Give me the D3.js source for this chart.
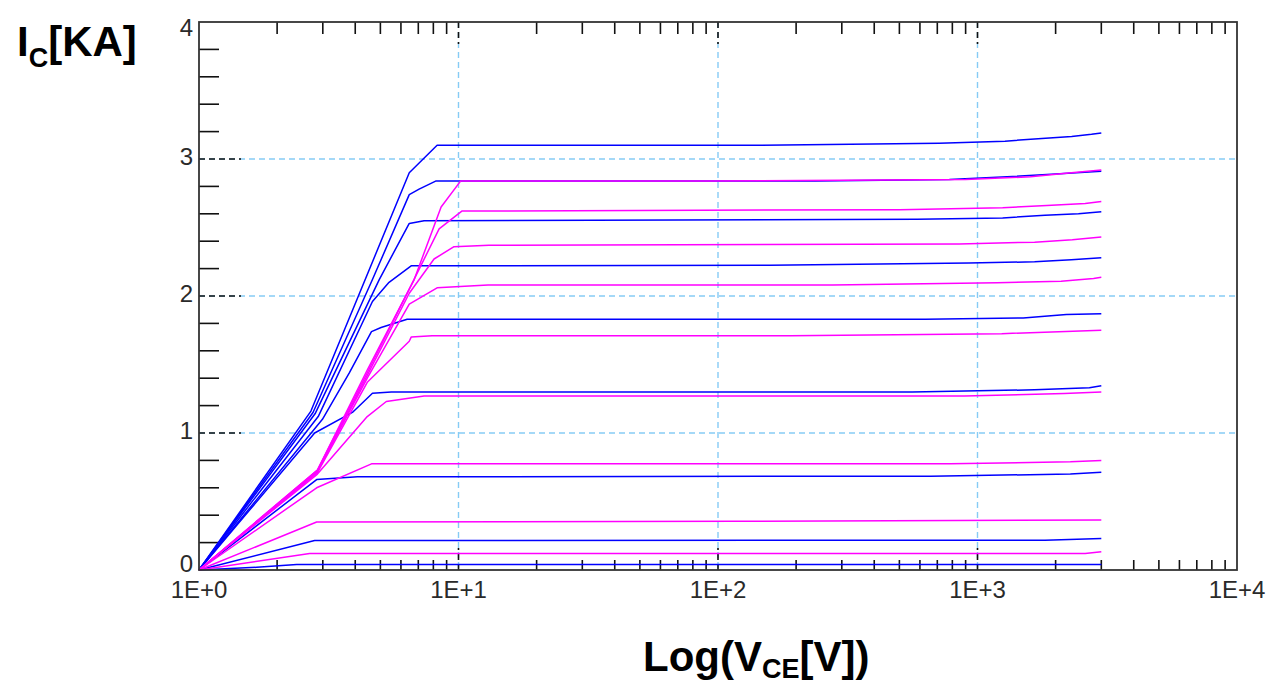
<!DOCTYPE html>
<html>
<head>
<meta charset="utf-8">
<script src="https://cdn.jsdelivr.net/npm/d3@7"></script>
<style>
  html, body { margin: 0; padding: 0; background: #fff; }
  svg { display: block; font-family: "Liberation Sans", Arial, sans-serif; }
</style>
</head>
<body>
<svg id="chart" width="1270" height="686"></svg>
<script>
// Output characteristics: collector current (kA) vs collector-emitter voltage (V, log scale).
// Each curve is a list of [V_CE, I_C] points.

// Blue family
const blue1 = [[1,0],[2.70,1.16],[6.46,2.90],[8.27,3.10],[136,3.10],[711,3.115],[1276,3.13],[1770,3.15],[2306,3.165],[2750,3.18],[3000,3.19]];
const blue2 = [[1,0],[2.75,1.15],[4.66,2.12],[6.46,2.74],[7.05,2.78],[8.2,2.84],[238,2.84],[779,2.85],[1300,2.87],[2000,2.89],[3000,2.91]];
const blue3 = [[1,0],[2.80,1.14],[4.95,2.12],[6.46,2.53],[7.37,2.55],[586,2.56],[1250,2.57],[1820,2.59],[2450,2.60],[3000,2.615]];
const blue4 = [[1,0],[2.88,1.12],[4.66,1.96],[5.40,2.10],[6.57,2.22],[158,2.225],[927,2.24],[1660,2.25],[2300,2.265],[3000,2.28]];
const blue5 = [[1,0],[2.99,1.10],[3.80,1.44],[4.62,1.74],[5.03,1.77],[6.34,1.83],[630,1.83],[1500,1.84],[2200,1.865],[3000,1.87]];
const blue6 = [[1,0],[2.79,1.00],[3.90,1.15],[4.66,1.29],[5.51,1.30],[560,1.30],[1660,1.315],[2700,1.33],[3000,1.345]];
const blue7 = [[1,0],[2.84,0.66],[4.08,0.68],[660,0.685],[2280,0.70],[3000,0.714]];
const blue8 = [[1,0],[2.79,0.215],[1820,0.218],[3000,0.23]];
const blue9 = [[1,0],[1.67,0.02],[2.38,0.04],[3000,0.04]];

// Magenta family
const magenta1 = [[1,0],[2.86,0.73],[4.45,1.46],[6.75,2.12],[8.57,2.65],[10.2,2.84],[93,2.84],[900,2.85],[1600,2.87],[2300,2.90],[3000,2.92]];
const magenta2 = [[1,0],[2.86,0.73],[4.45,1.44],[6.46,2.05],[8.42,2.49],[10.3,2.62],[500,2.63],[1250,2.645],[1850,2.66],[2600,2.675],[3000,2.69]];
const magenta3 = [[1,0],[2.86,0.72],[4.45,1.42],[6.46,2.02],[8.05,2.27],[9.61,2.36],[13.1,2.37],[850,2.38],[1660,2.393],[2320,2.41],[3000,2.43]];
const magenta4 = [[1,0],[2.86,0.72],[4.45,1.40],[6.46,1.94],[8.27,2.06],[13,2.08],[276,2.08],[1190,2.096],[2100,2.108],[2800,2.128],[3000,2.137]];
const magenta5 = [[1,0],[2.86,0.71],[4.45,1.37],[6.46,1.67],[6.57,1.70],[7.91,1.71],[190,1.71],[1240,1.725],[3000,1.75]];
const magenta6 = [[1,0],[2.86,0.70],[4.45,1.12],[5.27,1.23],[7.37,1.27],[890,1.27],[2160,1.288],[3000,1.30]];
const magenta7 = [[1,0],[2.84,0.60],[4.62,0.775],[784,0.775],[2280,0.79],[3000,0.80]];
const magenta8 = [[1,0],[2.84,0.35],[117,0.355],[3000,0.365]];
const magenta9 = [[1,0],[2.67,0.12],[2600,0.12],[3000,0.133]];

const blueCurves = [blue1, blue2, blue3, blue4, blue5, blue6, blue7, blue8, blue9];
const magentaCurves = [magenta1, magenta2, magenta3, magenta4, magenta5, magenta6, magenta7, magenta8, magenta9];

// Axis ticks
const xDecades = [1, 10, 100, 1000, 10000];
const xDecadeLabels = ["1E+0", "1E+1", "1E+2", "1E+3", "1E+4"];
const yMajor = [0, 1, 2, 3, 4];
const yMajorLabels = ["0", "1", "2", "3", "4"];

const svg = d3.select("#chart");
const x = d3.scaleLog().domain([1, 1e4]).range([199, 1237]);
const y = d3.scaleLinear().domain([0, 4]).range([570, 22]);
const [x0, x1] = x.range();
const [y0, y1] = y.range();

const gridColor = "#86cbf5";
const dash = "6,4";

// Grid lines
const grid = svg.append("g");
grid.selectAll("line.gx").data(xDecades.slice(1, -1)).join("line")
  .attr("x1", d => x(d)).attr("x2", d => x(d))
  .attr("y1", y1).attr("y2", y0)
  .attr("stroke", gridColor).attr("stroke-width", 1.4).attr("stroke-dasharray", dash);
grid.selectAll("line.gy").data(yMajor.slice(1, -1)).join("line")
  .attr("x1", x0).attr("x2", x1)
  .attr("y1", d => y(d)).attr("y2", d => y(d))
  .attr("stroke", gridColor).attr("stroke-width", 1.4).attr("stroke-dasharray", dash);

// Dark dashed stubs where the major grid meets the frame
const stubs = svg.append("g").attr("stroke", "#111").attr("stroke-width", 1.6).attr("stroke-dasharray", dash);
yMajor.slice(1, -1).forEach(v => {
  stubs.append("line").attr("x1", x0).attr("x2", x0 + 42).attr("y1", y(v)).attr("y2", y(v));
});
xDecades.slice(1, -1).forEach(v => {
  stubs.append("line").attr("x1", x(v)).attr("x2", x(v)).attr("y1", y0).attr("y2", y0 - 22);
  stubs.append("line").attr("x1", x(v)).attr("x2", x(v)).attr("y1", y1).attr("y2", y1 + 22);
});

// Minor ticks
const ticks = svg.append("g").attr("stroke", "#111").attr("stroke-width", 1.6);
const yMinor = d3.range(0, 4, 0.2).filter(v => Math.abs(v - Math.round(v)) > 1e-6);
ticks.selectAll("line.ym").data(yMinor).join("line")
  .attr("x1", x0).attr("x2", x0 + 20)
  .attr("y1", d => y(d)).attr("y2", d => y(d));
const xMinor = [];
xDecades.slice(0, -1).forEach(d => { for (let k = 2; k <= 9; k++) xMinor.push(d * k); });
ticks.selectAll("line.xb").data(xMinor).join("line")
  .attr("x1", d => x(d)).attr("x2", d => x(d))
  .attr("y1", y0).attr("y2", y0 - 10);
ticks.selectAll("line.xt").data(xMinor).join("line")
  .attr("x1", d => x(d)).attr("x2", d => x(d))
  .attr("y1", y1).attr("y2", y1 + 12);

// Curves
const line = d3.line().x(d => x(d[0])).y(d => y(d[1]));
const curves = svg.append("g").attr("fill", "none").attr("stroke-width", 1.5).attr("stroke-linejoin", "round");
curves.selectAll("path.b").data(blueCurves).join("path")
  .attr("d", line).attr("stroke", "#0000ff");
curves.selectAll("path.m").data(magentaCurves).join("path")
  .attr("d", line).attr("stroke", "#ff00ff");

// Frame
svg.append("rect")
  .attr("x", x0).attr("y", y1).attr("width", x1 - x0).attr("height", y0 - y1)
  .attr("fill", "none").attr("stroke", "#333").attr("stroke-width", 1.8);

// Tick labels
const labels = svg.append("g").attr("fill", "#2a2a2a").attr("font-size", 24);
labels.selectAll("text.yl").data(yMajor).join("text")
  .attr("x", 193)
  .attr("y", (d, i) => Math.max(y(d) - 2, 28) + (d === 0 ? -4 : 0) + 8)
  .attr("text-anchor", "end")
  .text((d, i) => yMajorLabels[i]);
labels.selectAll("text.xl").data(xDecades).join("text")
  .attr("x", d => x(d))
  .attr("y", 598)
  .attr("text-anchor", "middle")
  .text((d, i) => xDecadeLabels[i]);

// Axis titles
const yTitle = svg.append("text").attr("x", 17).attr("y", 56)
  .attr("font-weight", "bold").attr("font-size", 42).attr("fill", "#000");
yTitle.append("tspan").text("I");
yTitle.append("tspan").attr("dy", 11).attr("font-size", 27).text("C");
yTitle.append("tspan").attr("dy", -11).text("[KA]");

const xTitle = svg.append("text").attr("x", 643).attr("y", 671)
  .attr("font-weight", "bold").attr("font-size", 42).attr("fill", "#000");
xTitle.append("tspan").text("Log(V");
xTitle.append("tspan").attr("dy", 7).attr("font-size", 27).text("CE");
xTitle.append("tspan").attr("dy", -7).text("[V])");
</script>
</body>
</html>
